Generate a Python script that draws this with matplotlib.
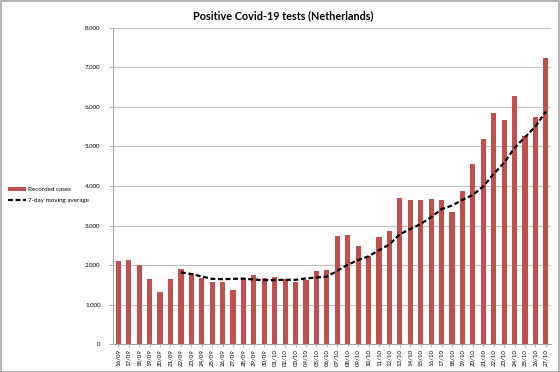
import matplotlib.pyplot as plt
from matplotlib.patches import Rectangle
from matplotlib.ticker import FuncFormatter

# =========================
# Data
# =========================

dates = [
    "16/09", "17/09", "18/09", "19/09", "20/09", "21/09", "22/09", "23/09",
    "24/09", "25/09", "26/09", "27/09", "28/09", "29/09", "30/09", "01/10",
    "02/10", "03/10", "04/10", "05/10", "06/10", "07/10", "08/10", "09/10",
    "10/10", "11/10", "12/10", "13/10", "14/10", "15/10", "16/10", "17/10",
    "18/10", "19/10", "20/10", "21/10", "22/10", "23/10", "24/10", "25/10",
    "26/10", "27/10",
]

cases = [
    2090, 2120, 1990, 1640, 1320, 1650, 1890, 1810,
    1670, 1580, 1580, 1380, 1680, 1740, 1680, 1690,
    1640, 1580, 1610, 1860, 1880, 2730, 2750, 2480,
    2230, 2700, 2870, 3705, 3645, 3650, 3680, 3650,
    3345, 3875, 4560, 5180, 5850, 5660, 6270, 5265,
    5735, 7240,
]

# 7-day moving average, starts on 22/09
avg_start = 6
moving_avg = [
    1814, 1774, 1710, 1651, 1643, 1651, 1656, 1634,
    1616, 1619, 1627, 1627, 1660, 1686, 1706, 1856,
    2007, 2127, 2220, 2376, 2520, 2781, 2911, 3040,
    3211, 3414, 3506, 3650, 3772, 3991, 4306, 4589,
    4963, 5237, 5503, 5886,
]

y_ticks = [0, 1000, 2000, 3000, 4000, 5000, 6000, 7000, 8000]

# =========================
# Plot
# =========================

plt.rcParams["font.family"] = ["Lato", "DejaVu Sans"]

fig = plt.figure(figsize=(5.6, 3.72), dpi=100)
ax = fig.add_axes([0.202, 0.075, 0.782, 0.850])

x = list(range(len(dates)))
bars = ax.bar(x, cases, width=0.5, color="#C0504D", zorder=2,
              label="Recorded cases")
line, = ax.plot(x[avg_start:], moving_avg, color="black", linewidth=1.6,
                linestyle=(0, (2.2, 1.2)), zorder=3,
                label="7-day moving average")

ax.set_xlim(-0.5, len(dates) - 0.5)
ax.set_ylim(0, 8000)
ax.set_yticks(y_ticks)
ax.yaxis.set_major_formatter(
    FuncFormatter(lambda v, p: f"{int(v):,}".replace(",", ".")))
ax.set_xticks(x)
ax.set_xticklabels(dates, rotation=90, fontsize=4.4)
ax.tick_params(axis="y", labelsize=4.4, length=3, width=0.6,
               color="#A6A6A6", pad=6)
ax.tick_params(axis="x", length=2, width=0.6, color="#A6A6A6", pad=1.5)

ax.grid(axis="y", color="#BFBFBF", linewidth=0.8, zorder=0)
for side in ["top", "right"]:
    ax.spines[side].set_visible(False)
for side in ["left", "bottom"]:
    ax.spines[side].set_color("#A6A6A6")
    ax.spines[side].set_linewidth(0.8)

fig.text(0.505, 0.958, "Positive Covid-19 tests (Netherlands)",
         ha="center", va="center", fontsize=7.8, weight="bold")

fig.legend(handles=[bars, line], loc="upper left",
           bbox_to_anchor=(0.005, 0.512), fontsize=4.5, frameon=False,
           handlelength=2.8, handleheight=0.5, labelspacing=1.0,
           handletextpad=0.4)

fig.patches.append(Rectangle((0.001, 0.001), 0.997, 0.996,
                             transform=fig.transFigure, fill=False,
                             edgecolor="#A6A6A6", linewidth=1.2))

plt.savefig("out.png", dpi=100)
